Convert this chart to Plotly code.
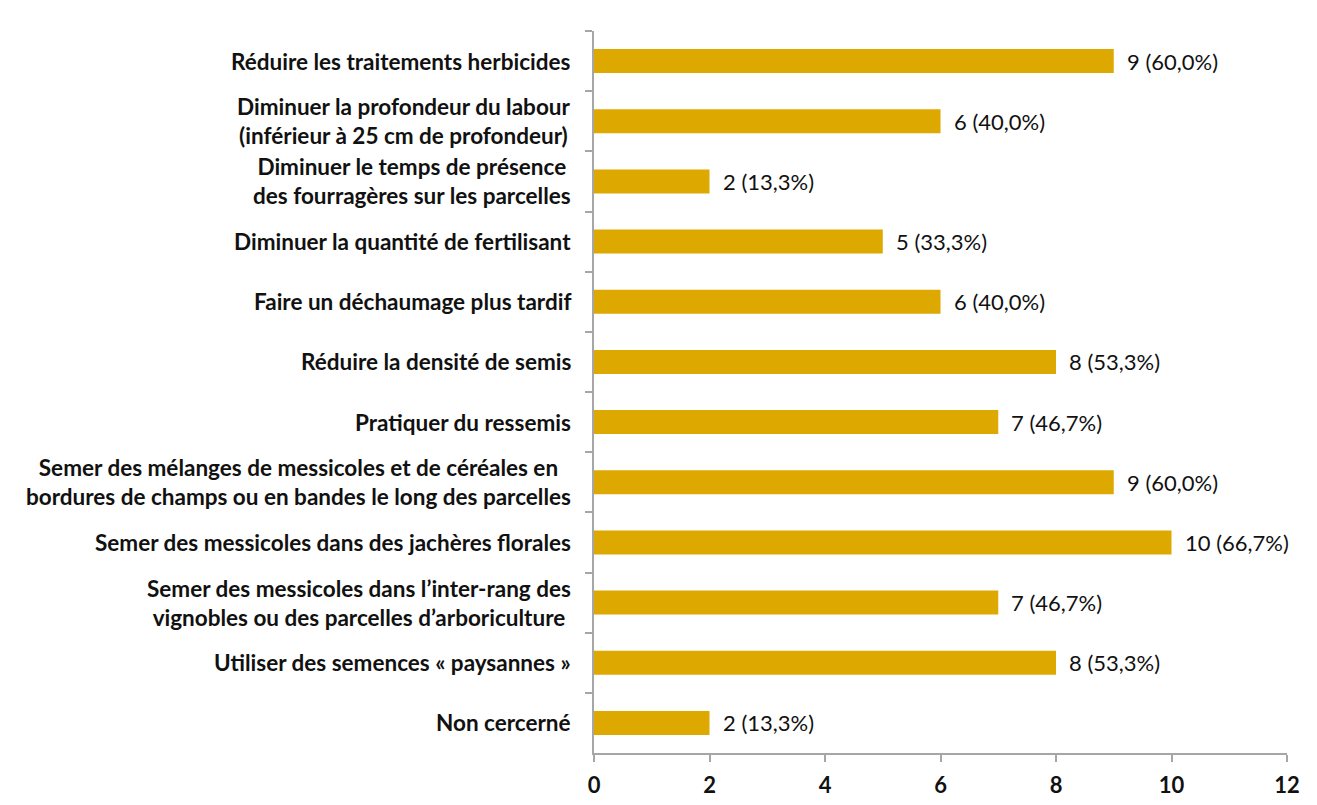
import plotly.graph_objects as go

categories = [
    "Réduire les traitements herbicides",
    "Diminuer la profondeur du labour<br>(inférieur à 25 cm de profondeur)",
    "Diminuer le temps de présence <br>des fourragères sur les parcelles ",
    "Diminuer la quantité de fertilisant",
    "Faire un déchaumage plus tardif",
    "Réduire la densité de semis ",
    "Pratiquer du ressemis",
    "Semer des mélanges de messicoles et de céréales en <br>bordures de champs ou en bandes le long des parcelles",
    "Semer des messicoles dans des jachères florales",
    "Semer des messicoles dans l’inter-rang des <br>vignobles ou des parcelles d’arboriculture ",
    "Utiliser des semences « paysannes »",
    "Non cercerné",
]
counts = [9, 6, 2, 5, 6, 8, 7, 9, 10, 7, 8, 2]
percents = ["60,0%", "40,0%", "13,3%", "33,3%", "40,0%", "53,3%", "46,7%", "60,0%", "66,7%", "46,7%", "53,3%", "13,3%"]
x_ticks = [0, 2, 4, 6, 8, 10, 12]

FONT = "Lato"
TXT = "#111111"
AXC = "#a6a6a6"

fig = go.Figure()
fig.add_trace(go.Bar(
    y=categories, x=counts, orientation="h",
    marker=dict(color="#DDA900", line=dict(width=0)),
    width=0.4, hoverinfo="skip",
))

annotations = []
for c, v, p in zip(categories, counts, percents):
    annotations.append(dict(
        x=v, y=c, xref="x", yref="y", text=f"{v} ({p})", showarrow=False,
        xanchor="left", xshift=11, font=dict(family=FONT, size=22, color=TXT),
    ))
    annotations.append(dict(
        x=0, y=c, xref="x", yref="y", text=c.replace(" <br>", "<br>").rstrip(), showarrow=False,
        xanchor="right", align="center", xshift=-21,
        font=dict(family=FONT, size=22.5, color=TXT, weight="bold"),
    ))

fig.update_layout(
    width=1301, height=789,
    margin=dict(l=585.5, r=22, t=22.5, b=44, autoexpand=False),
    plot_bgcolor="white", paper_bgcolor="white",
    showlegend=False,
    annotations=annotations,
    xaxis=dict(
        range=[0, 12], tickvals=x_ticks, ticktext=[str(t) for t in x_ticks],
        showgrid=False, zeroline=False, automargin=False,
        showline=True, linecolor=AXC, linewidth=2,
        ticks="outside", ticklen=7, tickcolor=AXC, tickwidth=2,
        ticklabelstandoff=5,
        tickfont=dict(family=FONT, size=22, color=TXT, weight="bold"),
    ),
    yaxis=dict(
        autorange="reversed", type="category", automargin=False,
        categoryorder="array", categoryarray=categories,
        showticklabels=False, showgrid=False, zeroline=False,
        showline=True, linecolor=AXC, linewidth=2,
        ticks="outside", tickson="boundaries", ticklen=7, tickcolor=AXC, tickwidth=2,
    ),
)

fig.write_html("out.html")
